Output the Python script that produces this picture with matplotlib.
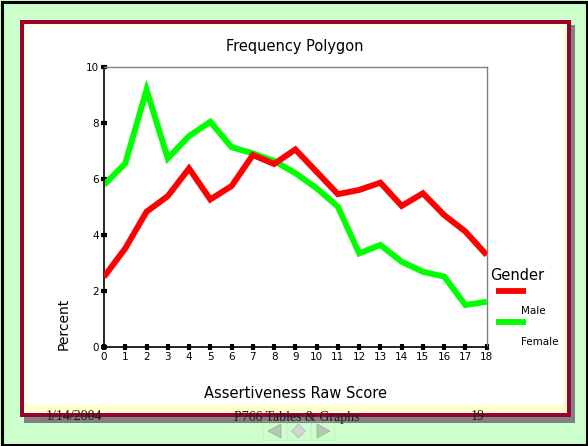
import matplotlib.pyplot as plt
from matplotlib.patches import Rectangle, Polygon
import numpy as np

scores = list(range(19))
male = [2.5, 3.52, 4.83, 5.39, 6.38, 5.27, 5.75, 6.86, 6.54, 7.06,
        6.26, 5.46, 5.61, 5.87, 5.04, 5.49, 4.71, 4.12, 3.28]
female = [5.79, 6.56, 9.19, 6.74, 7.54, 8.05, 7.14, 6.92, 6.65, 6.21,
          5.67, 5.01, 3.34, 3.64, 3.04, 2.68, 2.51, 1.49, 1.61]
groups = ["Male", "Female"]
colors = ["#ff0000", "#00ff00"]
yticks = [0, 2, 4, 6, 8, 10]
footer = ["1/14/2004", "P766 Tables & Graphs", "19"]

W, H = 588, 446
fig = plt.figure(figsize=(W / 100, H / 100), dpi=100)

# slide background, drawn in pixel coords (y down)
bg = fig.add_axes([0, 0, 1, 1])
bg.set_xlim(0, W)
bg.set_ylim(H, 0)
bg.axis("off")
bg.add_patch(Rectangle((0, 0), W, H, facecolor="#ccffcc", edgecolor="none"))
bg.add_patch(Rectangle((1.5, 1.5), W - 3, H - 3, facecolor="none", edgecolor="black", lw=2.2))
bg.add_patch(Rectangle((24, 25), 551, 397.5, facecolor="#808080", edgecolor="none"))
bg.add_patch(Rectangle((19.5, 20.3), 551.2, 396.4, facecolor="#990033", edgecolor="none"))
bg.add_patch(Rectangle((23.7, 23.7), 543, 389, facecolor="#ffffcc", edgecolor="none"))
bg.add_patch(Rectangle((26, 26), 537, 379, facecolor="white", edgecolor="none"))

# footer
fkw = dict(family="Liberation Serif", fontsize=10, color="#1a1a1a", va="center")
bg.text(74, 417, footer[0], ha="center", **fkw)
bg.text(297, 417, footer[1], ha="center", **fkw)
bg.text(478, 417, footer[2], ha="center", **fkw)

# navigation buttons
for x0 in [263, 287, 311]:
    bg.add_patch(Rectangle((x0, 421), 23, 19, facecolor="none", edgecolor="#c8d8c8",
                           lw=0.6, ls=":"))
bg.add_patch(Polygon([[281, 424], [281, 438], [268, 431]], facecolor="#b8c8b8", edgecolor="#98a898", lw=0.5))
bg.add_patch(Polygon([[298.5, 424], [305.5, 431], [298.5, 438], [291.5, 431]], facecolor="#d0d8d0", edgecolor="#b0b8b0", lw=0.5))
bg.add_patch(Polygon([[317, 424], [317, 438], [330, 431]], facecolor="#b8c8b8", edgecolor="#98a898", lw=0.5))

# legend outside the plot area
bg.text(490, 275, "Gender", fontsize=10.5, ha="left", va="center")
for i, (g, c) in enumerate(zip(groups, colors)):
    y = 291 + i * 31
    bg.plot([496, 526], [y, y], color=c, lw=4.2, solid_capstyle="butt")
    bg.text(521, y + 20, g, fontsize=7.5, ha="left", va="center")

bg.text(295, 47, "Frequency Polygon", fontsize=10.5, ha="center", va="center")
bg.text(295, 393, "Assertiveness Raw Score", fontsize=10.5, ha="center", va="center")
bg.text(64, 324, "Percent", fontsize=10, ha="center", va="center", rotation=90)

# plot area
left, right, top, bottom = 104, 486.7, 67.3, 346.7
ax = fig.add_axes([left / W, 1 - bottom / H, (right - left) / W, (bottom - top) / H])
ax.plot(scores, male, color=colors[0], lw=4.3, solid_joinstyle="miter",
        solid_capstyle="butt", zorder=3)
ax.plot(scores, female, color=colors[1], lw=4.3, solid_joinstyle="miter",
        solid_capstyle="butt", zorder=2)
ax.set_xlim(0, 18)
ax.set_ylim(0, 10)
ax.set_xticks(scores)
ax.set_yticks(yticks)
ax.tick_params(axis="both", direction="inout", length=4, width=3, color="black",
               labelsize=7.5, pad=1.5)
for s in ["left", "bottom"]:
    ax.spines[s].set_color("black")
    ax.spines[s].set_linewidth(1.2)
for s in ["top", "right"]:
    ax.spines[s].set_color("#808080")
    ax.spines[s].set_linewidth(1.0)
for lab in ax.get_xticklabels() + ax.get_yticklabels():
    lab.set_clip_on(False)

fig.savefig("out.png", dpi=100)
